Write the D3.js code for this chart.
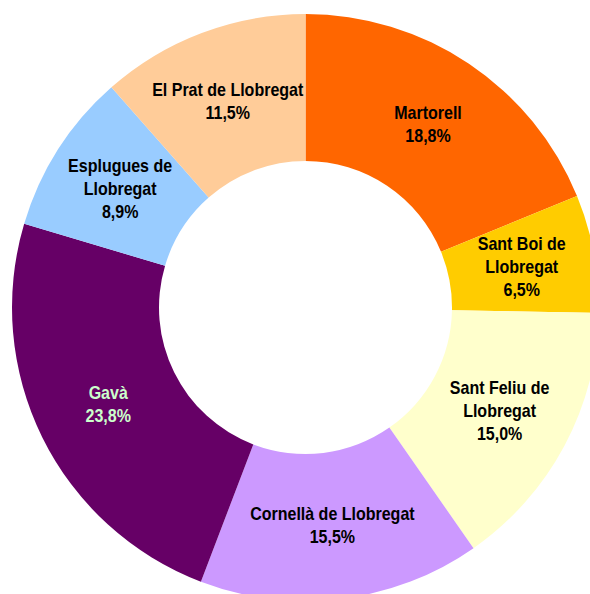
<!DOCTYPE html>
<html>
<head>
<meta charset="utf-8">
<script src="https://cdn.jsdelivr.net/npm/d3@7"></script>
<style>
  body { margin: 0; background: #fff; }
  .lbl { font-family: "Liberation Sans", Arial, sans-serif; font-weight: bold; font-size: 18px; }
</style>
</head>
<body>
<div id="chart"></div>
<script>
// data
var municipis = ["Martorell", "Sant Boi de Llobregat", "Sant Feliu de Llobregat", "Cornellà de Llobregat", "Gavà", "Esplugues de Llobregat", "El Prat de Llobregat"];
var percentatges = [18.8, 6.5, 15.0, 15.5, 23.8, 8.9, 11.5];
// how each label breaks into lines
var etiquetes = [
  ["Martorell"],
  ["Sant Boi de", "Llobregat"],
  ["Sant Feliu de", "Llobregat"],
  ["Cornellà de Llobregat"],
  ["Gavà"],
  ["Esplugues de", "Llobregat"],
  ["El Prat de Llobregat"]
];
var colors = ["#FF6600", "#FFCC00", "#FFFFCC", "#CC99FF", "#660066", "#99CCFF", "#FFCC99"];
var textColors = ["#000", "#000", "#000", "#000", "#CCFFCC", "#000", "#000"];

var svgWidth = 590;
var svgHeight = 594;
var cx = 305.5, cy = 307.5;
var outerR = 293.5, innerR = 146.5;

var svg = d3.select("#chart")
  .append("svg")
  .attr("width", svgWidth)
  .attr("height", svgHeight);

var g = svg.append("g")
  .attr("transform", `translate(${cx}, ${cy})`);

var data = municipis.map(function(m, i) {
  return { name: m, value: percentatges[i], lines: etiquetes[i], color: colors[i], tc: textColors[i] };
});

var pie = d3.pie()
  .sort(null)
  .value(d => d.value);

var arc = d3.arc()
  .innerRadius(innerR)
  .outerRadius(outerR);

var labelArc = d3.arc()
  .innerRadius(220)
  .outerRadius(220);

var arcs = pie(data);

g.selectAll("path")
  .data(arcs)
  .enter()
  .append("path")
  .attr("d", arc)
  .attr("fill", d => d.data.color);

var fmt = function(v) { return v.toFixed(1).replace(".", ",") + "%"; };
var lineH = 23;

// narrow look: squeeze the text a bit horizontally
var labels = g.selectAll("text.lbl")
  .data(arcs)
  .enter()
  .append("text")
  .attr("class", "lbl")
  .attr("text-anchor", "middle")
  .attr("fill", d => d.data.tc)
  .attr("transform", function(d) {
    var c = labelArc.centroid(d);
    return `translate(${c[0]}, ${c[1]}) scale(0.89, 1)`;
  });

labels.each(function(d) {
  var lines = d.data.lines.concat([fmt(d.data.value)]);
  var t = d3.select(this);
  var y0 = -(lines.length - 1) * lineH / 2 + 6;
  lines.forEach(function(l, i) {
    t.append("tspan")
      .attr("x", 0)
      .attr("y", y0 + i * lineH)
      .text(l);
  });
});
</script>
</body>
</html>
